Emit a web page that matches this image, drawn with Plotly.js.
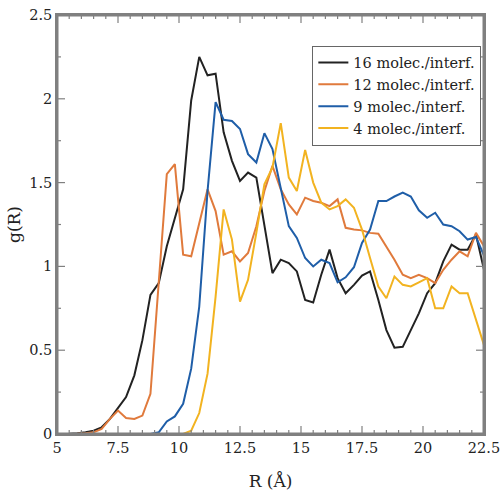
<!DOCTYPE html>
<html>
<head>
<meta charset="utf-8">
<script src="https://cdn.plot.ly/plotly-3.0.1.min.js"></script>
<style>html,body{margin:0;padding:0;background:#fff;}#chart{width:500px;height:493px;}</style>
</head>
<body>
<div id="chart"></div>
<script>
// R (Å) sampling grid
const R = [4.83, 5.17, 5.5, 5.83, 6.17, 6.5, 6.83, 7.17, 7.5, 7.83,
  8.17, 8.5, 8.83, 9.17, 9.5, 9.83, 10.17, 10.5, 10.83, 11.17,
  11.5, 11.83, 12.17, 12.5, 12.83, 13.17, 13.5, 13.83, 14.17, 14.5,
  14.83, 15.17, 15.5, 15.83, 16.17, 16.5, 16.83, 17.17, 17.5, 17.83,
  18.17, 18.5, 18.83, 19.17, 19.5, 19.83, 20.17, 20.5, 20.83, 21.17,
  21.5, 21.83, 22.17, 22.5];

const g16 = [0, 0, 0.002, 0.005, 0.01, 0.02, 0.04, 0.09, 0.155, 0.22,
  0.35, 0.56, 0.83, 0.90, 1.12, 1.28, 1.46, 1.99, 2.25, 2.14,
  2.15, 1.80, 1.63, 1.51, 1.56, 1.53, 1.25, 0.96, 1.04, 1.02,
  0.97, 0.80, 0.785, 0.95, 1.10, 0.93, 0.84, 0.89, 0.945, 0.97,
  0.80, 0.62, 0.515, 0.52, 0.62, 0.72, 0.84, 0.90, 1.03, 1.13,
  1.10, 1.10, 1.19, 0.98];

const g12 = [0, 0, 0, 0.002, 0.005, 0.01, 0.03, 0.09, 0.14, 0.095,
  0.09, 0.11, 0.24, 0.88, 1.55, 1.61, 1.07, 1.06, 1.26, 1.46,
  1.33, 1.07, 1.09, 1.03, 1.08, 1.24, 1.45, 1.60, 1.46, 1.37,
  1.31, 1.41, 1.39, 1.38, 1.36, 1.40, 1.23, 1.22, 1.215, 1.20,
  1.195, 1.12, 1.04, 0.95, 0.93, 0.95, 0.93, 0.90, 0.98, 1.04,
  1.09, 1.06, 1.20, 1.12];

const g9 = [0, 0, 0, 0, 0, 0, 0, 0, 0, 0,
  0, 0, 0, 0.01, 0.075, 0.105, 0.18, 0.39, 0.76, 1.45,
  1.98, 1.875, 1.868, 1.82, 1.67, 1.62, 1.795, 1.70, 1.47, 1.24,
  1.17, 1.05, 1.00, 1.04, 1.02, 0.905, 0.935, 0.995, 1.14, 1.22,
  1.39, 1.39, 1.417, 1.44, 1.417, 1.335, 1.29, 1.32, 1.25, 1.24,
  1.21, 1.16, 1.175, 1.065];

const g4 = [0, 0, 0, 0, 0, 0, 0, 0, 0, 0,
  0, 0, 0, 0, 0, 0, 0, 0.02, 0.125, 0.36,
  0.82, 1.34, 1.16, 0.79, 0.92, 1.20, 1.49, 1.59, 1.855, 1.53,
  1.45, 1.695, 1.50, 1.38, 1.34, 1.36, 1.40, 1.35, 1.22, 1.05,
  0.88, 0.81, 0.94, 0.89, 0.88, 0.905, 0.93, 0.75, 0.75, 0.88,
  0.84, 0.84, 0.68, 0.53];

const seriesNames = ['16 molec./interf.', '12 molec./interf.', '9 molec./interf.', '4 molec./interf.'];
const seriesColors = ['#222222', '#e07a3c', '#1f5ea8', '#f2b320'];
const seriesValues = [g16, g12, g9, g4];

// axis ranges and tick positions
const xRange = [5, 22.5];
const yRange = [0, 2.5];
const xMajor = [5, 7.5, 10, 12.5, 15, 17.5, 20, 22.5];
const xMinor = [5.5, 6, 6.5, 7, 8, 8.5, 9, 9.5, 10.5, 11, 11.5, 12, 13, 13.5, 14, 14.5,
  15.5, 16, 16.5, 17, 18, 18.5, 19, 19.5, 20.5, 21, 21.5, 22];
const yMajor = [0, 0.5, 1, 1.5, 2, 2.5];
const yMinor = [0.25, 0.75, 1.25, 1.75, 2.25];

const traces = seriesValues.map((v, i) => ({
  x: R, y: v, type: 'scatter', mode: 'lines', name: seriesNames[i],
  line: {color: seriesColors[i], width: 2}
}));

// frame and inside tick marks on all four sides, drawn as decoration
const frameColor = '#808080';
const plotW = 500 - 57 - 16, plotH = 493 - 15 - 59;
const xUnit = (xRange[1] - xRange[0]) / plotW; // data units per px
const yUnit = (yRange[1] - yRange[0]) / plotH;
const tx = [], ty = [];
function addX(v, len) {
  tx.push(v, v, null, v, v, null);
  ty.push(yRange[0], yRange[0] + len * yUnit, null, yRange[1], yRange[1] - len * yUnit, null);
}
function addY(v, len) {
  tx.push(xRange[0], xRange[0] + len * xUnit, null, xRange[1], xRange[1] - len * xUnit, null);
  ty.push(v, v, null, v, v, null);
}
xMajor.forEach(v => addX(v, 8));
xMinor.forEach(v => addX(v, 4));
yMajor.forEach(v => addY(v, 8));
yMinor.forEach(v => addY(v, 4));
traces.push({x: tx, y: ty, type: 'scatter', mode: 'lines', showlegend: false, hoverinfo: 'skip',
  line: {color: frameColor, width: 1.2}, connectgaps: false});
traces.push({x: [xRange[0], xRange[1], xRange[1], xRange[0], xRange[0]],
  y: [yRange[0], yRange[0], yRange[1], yRange[1], yRange[0]],
  type: 'scatter', mode: 'lines', showlegend: false, hoverinfo: 'skip',
  line: {color: frameColor, width: 3}});

const serif = 'DejaVu Serif';

const layout = {
  width: 500, height: 493,
  margin: {l: 57, r: 16, t: 15, b: 59},
  paper_bgcolor: '#fff', plot_bgcolor: '#fff',
  showlegend: true,
  legend: {
    x: 0.598, y: 0.927, xanchor: 'left', yanchor: 'top',
    bgcolor: '#fff', bordercolor: '#666', borderwidth: 1,
    font: {family: serif, size: 14.5, color: '#222'},
    itemwidth: 30, tracegroupgap: 0
  },
  xaxis: {
    range: xRange, tickmode: 'array', tickvals: xMajor,
    automargin: false,
    showgrid: false, zeroline: false, showline: true, linecolor: frameColor, linewidth: 1.5,
    mirror: true, ticks: '', ticklabeloverflow: 'allow',
    tickfont: {family: serif, size: 14.5, color: '#222'},
    title: {text: 'R (Å)', font: {family: serif, size: 17, color: '#222'}, standoff: 20}
  },
  yaxis: {
    range: yRange, tickmode: 'array', tickvals: yMajor,
    automargin: false,
    showgrid: false, zeroline: false, showline: true, linecolor: frameColor, linewidth: 1.5,
    mirror: true, ticks: '', ticklabeloverflow: 'allow',
    tickfont: {family: serif, size: 14.5, color: '#222'},
    title: {text: 'g(R)', font: {family: serif, size: 17, color: '#222'}, standoff: 4}
  }
};

Plotly.newPlot('chart', traces, layout, {displayModeBar: false});
</script>
</body>
</html>
